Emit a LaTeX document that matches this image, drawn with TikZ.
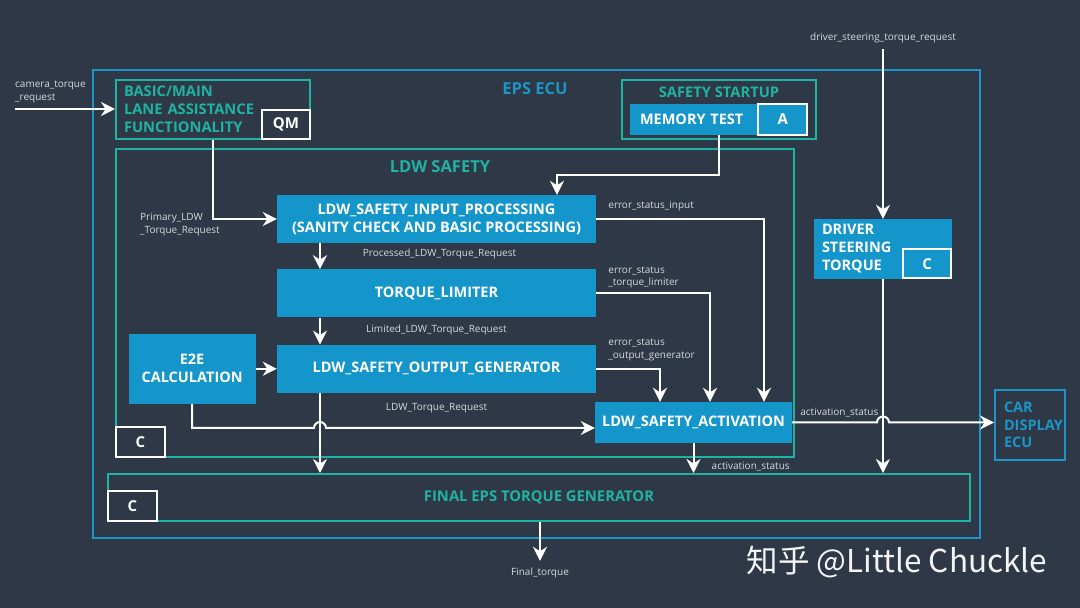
\documentclass[tikz,border=0pt]{standalone}
\usepackage{fontspec}
\setmainfont{Open Sans}
\newfontfamily\cjkfont{Noto Sans CJK SC}
\usetikzlibrary{positioning, arrows.meta}

\definecolor{bgslate}{HTML}{2E3846}
\definecolor{ecublue}{HTML}{1B96C6}
\definecolor{boxblue}{HTML}{1596CB}
\definecolor{safeteal}{HTML}{1FB3A3}
\definecolor{siggray}{HTML}{D5D9DD}

\begin{document}
\begin{tikzpicture}[
            x=1pt, y=1pt,
            frame/.style={draw=ecublue, line width=2pt},
            group/.style={draw=safeteal, line width=2pt},
            block/.style={fill=boxblue, text=white, font=\fontsize{14.5}{18}\selectfont\bfseries, align=center, inner sep=0pt},
            asil/.style={draw=white, line width=2pt, text=white, font=\fontsize{15}{18}\selectfont\bfseries, minimum width=48pt, minimum height=29pt, inner sep=0pt},
            grouptitle/.style={text=safeteal, font=\fontsize{14.7}{18}\selectfont\bfseries},
            sig/.style={text=siggray, font=\fontsize{10}{12.5}\selectfont, align=left, inner sep=0pt},
            arrow/.style={-{Stealth[length=14pt, width=14pt, inset=4.5pt]}, draw=white, line width=2pt}
        ]
            \fill[bgslate] (0,0) rectangle (1080,608);
            \useasboundingbox (0,0) rectangle (1080,608);

            % ECU and groups
            \node [frame, minimum width=887pt, minimum height=468pt] (ecu) at (536.5,304) {};
            \node [text=ecublue, font=\fontsize{16.5}{18}\selectfont\bfseries] (ecutitle) at (535,519) {EPS ECU};

            \node [group, minimum width=194pt, minimum height=59pt, text width=178pt, align=left, inner xsep=8pt, inner ysep=2pt, text=safeteal, font=\fontsize{14.7}{18}\selectfont\bfseries] (basic) at (213,498.5) {BASIC/MAIN\\LANE ASSISTANCE\\FUNCTIONALITY};
            \node [asil, anchor=south east] (qm) at (basic.south east) {QM};

            \node [group, minimum width=194pt, minimum height=59pt] (startup) at (719,498.5) {};
            \node [grouptitle] (startuptitle) at (719,516) {SAFETY STARTUP};
            \node [block, minimum width=178pt, minimum height=31pt, text width=158pt, align=left, inner xsep=10pt] (memtest) at (719,488.5) {MEMORY TEST};
            \node [asil, minimum width=49pt, minimum height=31pt, anchor=east] (asila) at (memtest.east) {A};

            \node [group, minimum width=678pt, minimum height=308pt] (ldw) at (455,305) {};
            \node [grouptitle, font=\fontsize{16.5}{18}\selectfont\bfseries] (ldwtitle) at (440,441) {LDW SAFETY};
            \node [asil, minimum width=49pt, minimum height=30pt, anchor=south west] (ldwasil) at (ldw.south west) {C};

            % LDW blocks
            \node [block, minimum width=319pt, minimum height=48pt] (inproc) at (436.5,389) {LDW\_SAFETY\_INPUT\_PROCESSING\\(SANITY CHECK AND BASIC PROCESSING)};
            \node [block, minimum width=319pt, minimum height=48pt, below=26pt of inproc] (limiter) {TORQUE\_LIMITER};
            \node [block, minimum width=319pt, minimum height=48pt, below=27pt of limiter] (outgen) {LDW\_SAFETY\_OUTPUT\_GENERATOR};
            \node [block, minimum width=127pt, minimum height=70pt, left=21pt of outgen] (e2e) {E2E\\CALCULATION};
            \node [block, minimum width=197pt, minimum height=41pt] (activation) at (693.5,185.5) {LDW\_SAFETY\_ACTIVATION};

            \node [block, minimum width=138pt, minimum height=60pt, text width=122pt, align=left, inner xsep=8pt] (dst) at (883,359) {DRIVER\\STEERING\\TORQUE};
            \node [asil, anchor=south east] (dstasil) at (dst.south east) {C};

            \node [group, minimum width=862pt, minimum height=47pt, text=safeteal, font=\fontsize{14.8}{18}\selectfont\bfseries] (final) at (539,110.5) {FINAL EPS TORQUE GENERATOR};
            \node [asil, minimum width=49pt, minimum height=30pt, anchor=south west] (finalasil) at (final.south west) {C};

            \node [frame, minimum width=70pt, minimum height=70pt, text width=52pt, align=left, inner xsep=9pt, text=ecublue, font=\fontsize{14.5}{17.5}\selectfont\bfseries] (car) at (1030,183) {CAR\\DISPLAY\\ECU};

            % signals
            \coordinate (camin) at (15,499);
            \node [sig, above right=6pt and 0pt of camin] (camlabel) {camera\_torque\\\_request};
            \draw [arrow] (camin) -- (camin -| basic.west);

            \node [sig, anchor=west] (primlabel) at (140,383.5) {Primary\_LDW\\\_Torque\_Request};
            \draw [arrow] (basic.south) |- (inproc.west);

            \coordinate (mtturn) at (557,433);
            \draw [arrow] (memtest.south) |- (mtturn) -- (mtturn |- inproc.north);

            \coordinate (colx) at (320,0);
            \draw [arrow] (inproc.south -| colx) -- (limiter.north -| colx);
            \node [sig, below=6pt of inproc, xshift=3pt] (proclabel) {Processed\_LDW\_Torque\_Request};
            \draw [arrow] (limiter.south -| colx) -- (outgen.north -| colx);
            \node [sig, below=7pt of limiter] (limlabel) {Limited\_LDW\_Torque\_Request};
            \draw [arrow] (e2e.east) -- (outgen.west);
            \draw [arrow] (outgen.south -| colx) -- (final.north -| colx);

            \coordinate (hopa) at (320,180);
            \draw [arrow] (e2e.south) |- ([xshift=-6pt]hopa) arc[start angle=180, end angle=0, radius=6pt] -- (hopa -| activation.west);
            \node [sig, below=10pt of outgen] (reqlabel) {LDW\_Torque\_Request};

            \draw [arrow] (inproc.east) -| ([xshift=70.5pt]activation.north);
            \node [sig, above right=8pt and 12pt of inproc.east] (errin) {error\_status\_input};
            \draw [arrow] (limiter.east) -| ([xshift=16.5pt]activation.north);
            \node [sig, above right=5pt and 12pt of limiter.east] (errlim) {error\_status\\\_torque\_limiter};
            \draw [arrow] (outgen.east) -| ([xshift=-33.5pt]activation.north);
            \node [sig, above right=8pt and 12pt of outgen.east] (errout) {error\_status\\\_output\_generator};

            \node [sig] (drvlabel) at (883,570) {driver\_steering\_torque\_request};
            \draw [arrow] ([yshift=-6pt]drvlabel.south) -- (dst.north);
            \draw [arrow] (dst.south) -- (dst.south |- final.north);

            \coordinate (hopb) at (dst.south |- activation.east);
            \draw [arrow] (activation.east) -- ([xshift=-6pt]hopb) arc[start angle=180, end angle=0, radius=6pt] -- (hopb -| car.west);
            \node [sig, above right=5pt and 8pt of activation.east] (actlabel) {activation\_status};

            \coordinate (actfoot) at (activation.south |- final.north);
            \draw [arrow] (activation.south) -- (actfoot);
            \node [sig, above right=2pt and 18pt of actfoot] (actfootlabel) {activation\_status};

            \node [sig] (ftq) at (540,35) {Final\_torque};
            \draw [arrow] (ftq |- final.south) -- ([yshift=7pt]ftq.north);

            \node [text=white!92!gray, font=\cjkfont\fontsize{31.5}{34}\selectfont] (mark) at (897,46) {知乎 @Little Chuckle};

        \end{tikzpicture}
\end{document}
